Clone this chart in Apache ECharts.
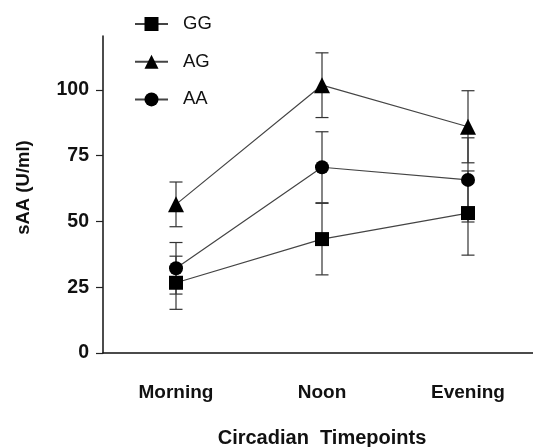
<!DOCTYPE html>
<html><head><meta charset="utf-8">
<script src="https://cdn.jsdelivr.net/npm/echarts@6/dist/echarts.min.js"></script>
<style>html,body{margin:0;padding:0;background:#fff}#c{width:533px;height:447px}</style>
</head><body><div id="c"></div>
<script>
const categories = ['Morning', 'Noon', 'Evening'];
const yTicks = [0, 25, 50, 75, 100];
const GG = [26.7, 43.3, 53.2];
const GG_err = [10.1, 13.6, 16.0];
const AG = [56.5, 101.8, 86.0];
const AG_err = [8.5, 12.3, 13.7];
const AA = [32.2, 70.6, 65.8];
const AA_err = [9.8, 13.5, 16.0];

function errData(m, e) { return m.map((v, i) => [i, v - e[i], v + e[i]]); }

function errSeries(name, m, e) {
  return {
    type: 'custom', name: name + '_err', z: 1, silent: true,
    data: errData(m, e),
    renderItem: function (params, api) {
      const lo = api.coord([api.value(0), api.value(1)]);
      const hi = api.coord([api.value(0), api.value(2)]);
      const w = 6.5;
      const st = { stroke: '#333', lineWidth: 1.2 };
      return { type: 'group', children: [
        { type: 'line', shape: { x1: lo[0], y1: lo[1], x2: hi[0], y2: hi[1] }, style: st },
        { type: 'line', shape: { x1: lo[0] - w, y1: lo[1], x2: lo[0] + w, y2: lo[1] }, style: st },
        { type: 'line', shape: { x1: hi[0] - w, y1: hi[1], x2: hi[0] + w, y2: hi[1] }, style: st }
      ]};
    }
  };
}
function lineSeries(name, m, sym, size) {
  return {
    type: 'line', name: name, data: m, z: 3,
    symbol: sym, symbolSize: size, showSymbol: true,
    lineStyle: { color: '#444', width: 1.2 },
    itemStyle: { color: '#000' },
    emphasis: { disabled: true }
  };
}
const FONT = 'Liberation Sans, Arial, sans-serif';
const chart = echarts.init(document.getElementById('c'));
chart.setOption({
  animation: false,
  backgroundColor: '#fff',
  textStyle: { fontFamily: FONT },
  grid: { left: 103, top: 36, width: 438, bottom: 94, outerBoundsMode: 'none', containLabel: false },
  legend: {
    data: ['GG', 'AG', 'AA'], orient: 'vertical', left: 129, top: 9.5,
    itemWidth: 33, itemHeight: 17.5, itemGap: 18.7,
    textStyle: { fontSize: 18.5, color: '#111', fontFamily: FONT, padding: [0, 0, 0, 10] }
  },
  xAxis: {
    type: 'category', data: categories, boundaryGap: true,
    name: 'Circadian  Timepoints', nameLocation: 'middle', nameGap: 75,
    nameTextStyle: { fontSize: 20, fontWeight: 'bold', color: '#111' },
    axisLine: { lineStyle: { color: '#111', width: 1.5 } },
    axisTick: { alignWithLabel: true, length: 8, lineStyle: { color: '#777', width: 1.5 } },
    axisLabel: { margin: 30.5, fontSize: 19, fontWeight: 'bold', color: '#111' },
    splitLine: { show: false }
  },
  yAxis: {
    type: 'value', min: 0, max: 120.5,
    name: 'sAA (U/ml)', nameLocation: 'middle', nameGap: 70,
    nameTextStyle: { fontSize: 18.5, fontWeight: 'bold', color: '#111', padding: [0, 0, 0, 14] },
    axisLine: { show: true, lineStyle: { color: '#111', width: 1.5 } },
    axisTick: { show: true, length: 7, customValues: yTicks, lineStyle: { color: '#222', width: 1.2 } },
    axisLabel: { margin: 14, fontSize: 19.5, fontWeight: 'bold', color: '#111', customValues: yTicks },
    splitLine: { show: false }
  },
  series: [
    errSeries('GG', GG, GG_err), errSeries('AG', AG, AG_err), errSeries('AA', AA, AA_err),
    lineSeries('GG', GG, 'rect', 14),
    lineSeries('AG', AG, 'triangle', 16),
    lineSeries('AA', AA, 'circle', 14)
  ]
});
</script></body></html>
